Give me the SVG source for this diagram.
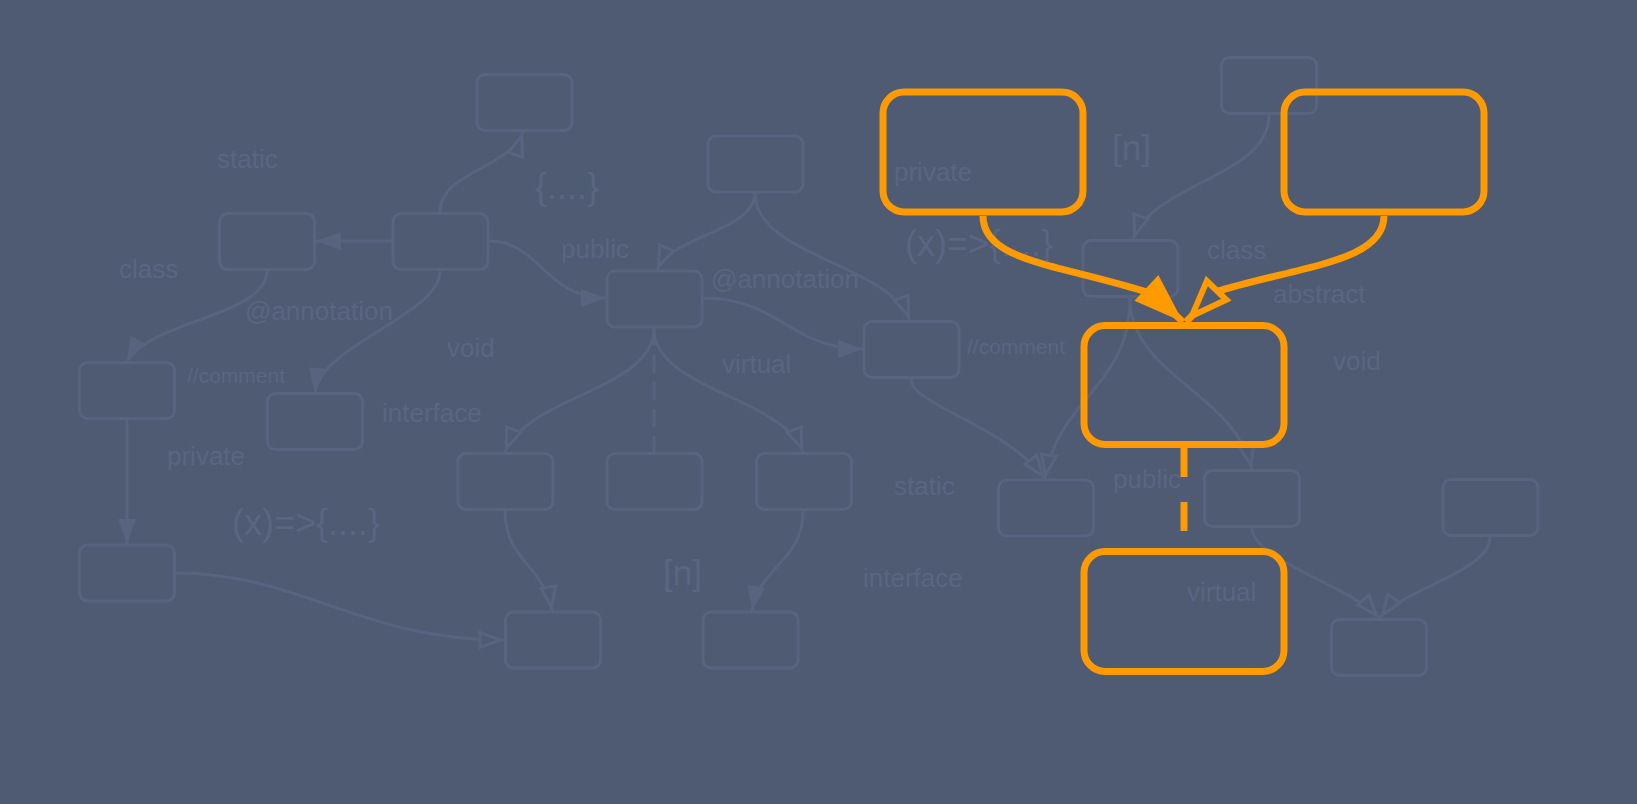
<svg xmlns="http://www.w3.org/2000/svg" width="1637" height="804" viewBox="0 0 1637 804">
<style>
.bg{fill:#4f5a73}
.fn{fill:none;stroke:#58647f;stroke-width:3}
.fe{fill:none;stroke:#58647f;stroke-width:3}
.fd{stroke-dasharray:18 9}
.lb{font-family:"Liberation Sans",Arial,sans-serif;font-size:26px;fill:#5a6582}
.sm{font-size:21px}
.lg{font-size:36px}
.md{font-size:35px}
.on{fill:none;stroke:#ff9a00;stroke-width:7}
.oe{fill:none;stroke:#ff9a00;stroke-width:7;stroke-linejoin:round}
.od{stroke-dasharray:29 25}
</style>
<defs>
<marker id="af" markerUnits="userSpaceOnUse" markerWidth="30" markerHeight="20" refX="0" refY="0" orient="auto" overflow="visible"><path d="M-25,-9 L0,0 L-25,9 Z" fill="#58647f"/></marker>
<marker id="ah" markerUnits="userSpaceOnUse" markerWidth="30" markerHeight="20" refX="0" refY="0" orient="auto" overflow="visible"><path d="M-24,-7.5 L-4,0 L-24,7.5 Z" fill="#4f5a73" stroke="#58647f" stroke-width="3"/></marker>
<marker id="of" markerUnits="userSpaceOnUse" markerWidth="60" markerHeight="40" refX="0" refY="0" orient="auto" overflow="visible"><path d="M-50,-17.5 L0,0 L-50,17.5 Z" fill="#ff9a00"/></marker>
<marker id="oh" markerUnits="userSpaceOnUse" markerWidth="60" markerHeight="40" refX="0" refY="0" orient="auto" overflow="visible"><path d="M-44,-13.5 L-8.5,0 L-44,13.5 Z" fill="#4f5a73" stroke="#ff9a00" stroke-width="6"/></marker>
</defs>
<rect class="bg" x="0" y="0" width="1637" height="804"/>
<g id="connectors">
<path class="fe" d="M392,241 L316,241" marker-end="url(#af)"/>
<path class="fe" d="M267,271 C267,316 148,321 127,362" marker-end="url(#af)"/>
<path class="fe" d="M440,271 C440,315 320,345 315,393" marker-end="url(#af)"/>
<path class="fe" d="M440,212 C440,172 511,168 523,132" marker-end="url(#ah)"/>
<path class="fe" d="M127,419 L127,544" marker-end="url(#af)"/>
<path class="fe" d="M489,241 C540,241 545,298 606,298" marker-end="url(#af)"/>
<path class="fe" d="M176,573 C300,573 360,640 504,640" marker-end="url(#ah)"/>
<path class="fe" d="M755,193 C755,231 672,235 657,270" marker-end="url(#ah)"/>
<path class="fe" d="M755,193 C755,256 887,263 910,320" marker-end="url(#ah)"/>
<path class="fe" d="M703,298 C780,298 790,349 863,349" marker-end="url(#af)"/>
<path class="fe" d="M654,328 C654,390 527,396 505,452" marker-end="url(#ah)"/>
<path class="fe fd" d="M654,328 L654,452"/>
<path class="fe" d="M654,328 C654,390 781,396 803,452" marker-end="url(#ah)"/>
<path class="fe" d="M505,511 C505,561 545,566 552,611" marker-end="url(#ah)"/>
<path class="fe" d="M803,511 C803,561 760,566 752,611" marker-end="url(#af)"/>
<path class="fe" d="M911,379 C911,405 1005,425 1045,479" marker-end="url(#ah)"/>
<path class="fe" d="M1269,115 C1269,177 1153,183 1133,239" marker-end="url(#ah)"/>
<path class="fe" d="M1130,298 C1130,388 1058,397 1045,479" marker-end="url(#ah)"/>
<path class="fe" d="M1130,298 C1130,375 1234,392 1252,469" marker-end="url(#ah)"/>
<path class="fe" d="M1252,528 C1252,560 1350,585 1379,618" marker-end="url(#ah)"/>
<path class="fe" d="M1490,537 C1490,572 1400,590 1380,618" marker-end="url(#ah)"/>
</g>
<g id="faint-nodes">
<g id="nA"><rect class="fn" x="219.5" y="213.5" width="95" height="56" rx="8"/></g>
<g id="nB"><rect class="fn" x="393" y="213.5" width="95" height="56" rx="8"/></g>
<g id="nG"><rect class="fn" x="477" y="74.5" width="95" height="56" rx="8"/></g>
<g id="nH"><rect class="fn" x="708" y="136" width="95" height="56" rx="8"/></g>
<g id="nI"><rect class="fn" x="607" y="271" width="95" height="56" rx="8"/></g>
<g id="nC"><rect class="fn" x="79.5" y="362.5" width="95" height="56" rx="8"/></g>
<g id="nD"><rect class="fn" x="267.5" y="393.5" width="95" height="56" rx="8"/></g>
<g id="nE"><rect class="fn" x="79.5" y="545" width="95" height="56" rx="8"/></g>
<g id="nK"><rect class="fn" x="458" y="453.5" width="95" height="56" rx="8"/></g>
<g id="nL"><rect class="fn" x="607" y="453.5" width="95" height="56" rx="8"/></g>
<g id="nM"><rect class="fn" x="756.5" y="453.5" width="95" height="56" rx="8"/></g>
<g id="nF"><rect class="fn" x="505.5" y="612" width="95" height="56" rx="8"/></g>
<g id="nN"><rect class="fn" x="703" y="612" width="95" height="56" rx="8"/></g>
<g id="nJ"><rect class="fn" x="864" y="321.5" width="95" height="56" rx="8"/></g>
<g id="nQ"><rect class="fn" x="1221.5" y="57.5" width="95" height="56" rx="8"/></g>
<g id="nR"><rect class="fn" x="1083" y="240.5" width="95" height="56" rx="8"/></g>
<g id="nO"><rect class="fn" x="998.5" y="480" width="95" height="56" rx="8"/></g>
<g id="nS"><rect class="fn" x="1204.5" y="470.5" width="95" height="56" rx="8"/></g>
<g id="nT"><rect class="fn" x="1331.5" y="619.5" width="95" height="56" rx="8"/></g>
<g id="nU"><rect class="fn" x="1443" y="479.5" width="95" height="56" rx="8"/></g>
</g>
<g id="labels">
<text class="lb" x="217" y="168">static</text>
<text class="lb" x="119" y="278">class</text>
<text class="lb" x="245" y="320">@annotation</text>
<text class="lb" x="447" y="357">void</text>
<text class="lb sm" x="187" y="383">//comment</text>
<text class="lb" x="382" y="422">interface</text>
<text class="lb" x="167" y="465">private</text>
<text class="lb lg" x="232" y="535">(x)=&gt;{....}</text>
<text class="lb lg" x="535" y="199">{....}</text>
<text class="lb" x="561" y="258">public</text>
<text class="lb" x="711" y="288">@annotation</text>
<text class="lb" x="722" y="373">virtual</text>
<text class="lb md" x="663" y="585">[n]</text>
<text class="lb" x="894" y="495">static</text>
<text class="lb" x="863" y="587">interface</text>
<text class="lb sm" x="967" y="354">//comment</text>
<text class="lb" x="894" y="181">private</text>
<text class="lb md" x="1112" y="160">[n]</text>
<text class="lb lg" x="905" y="256">(x)=&gt;{....}</text>
<text class="lb" x="1207" y="259">class</text>
<text class="lb" x="1273" y="303">abstract</text>
<text class="lb" x="1333" y="370">void</text>
<text class="lb" x="1113" y="488">public</text>
<text class="lb" x="1187" y="601">virtual</text>
</g>
<g id="highlight-connectors">
<path class="oe" d="M983,216 C983,262 1060,264 1153,294 L1183,322" marker-end="url(#of)"/>
<path class="oe" d="M1384,216 C1384,262 1300,266 1215,292 L1186,322" marker-end="url(#oh)"/>
<path class="oe od" d="M1184,448 L1184,533" stroke-linecap="butt"/>
</g>
<g id="nP1"><rect class="on" x="883" y="92" width="200" height="120" rx="21"/></g>
<g id="nP2"><rect class="on" x="1284" y="92" width="200" height="120" rx="21"/></g>
<g id="nM1"><rect class="on" x="1084" y="325.5" width="200" height="119" rx="21"/></g>
<g id="nM2"><rect class="on" x="1084" y="551.5" width="200" height="120" rx="21"/></g>
</svg>
